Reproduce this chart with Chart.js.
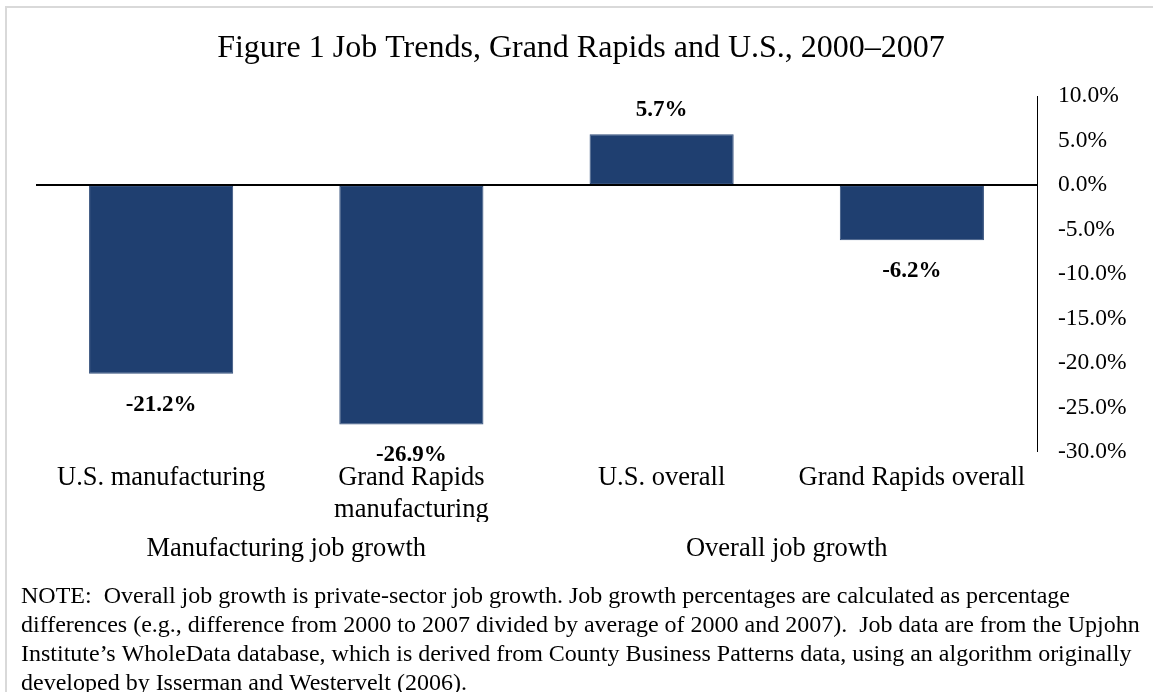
<!DOCTYPE html>
<html>
<head>
<meta charset="utf-8">
<script src="https://cdn.jsdelivr.net/npm/chart.js@4"></script>
<style>
  html, body { margin: 0; padding: 0; background: #fff; }
  #wrap { position: relative; width: 1153px; height: 692px; }
  canvas { display: block; }
</style>
</head>
<body>
<div id="wrap"><canvas id="c" width="1153" height="692"></canvas></div>
<script>
// ---- data ----
const categories = [["U.S. manufacturing"], ["Grand Rapids", "manufacturing"], ["U.S. overall"], ["Grand Rapids overall"]];
const jobGrowth = [-21.2, -26.9, 5.7, -6.2];
const groupLabels = ["Manufacturing job growth", "Overall job growth"];
const yMin = -30, yMax = 10, yStep = 5;
const titleText = "Figure 1 Job Trends, Grand Rapids and U.S., 2000\u20132007";
const noteLines = [
  "NOTE:  Overall job growth is private-sector job growth. Job growth percentages are calculated as percentage",
  "differences (e.g., difference from 2000 to 2007 divided by average of 2000 and 2007).  Job data are from the Upjohn",
  "Institute\u2019s WholeData database, which is derived from County Business Patterns data, using an algorithm originally",
  "developed by Isserman and Westervelt (2006)."
];

const SERIF = "'Liberation Serif', 'Times New Roman', serif";

const decorPlugin = {
  id: 'decor',
  beforeDraw(chart) {
    const ctx = chart.ctx;
    ctx.save();
    ctx.fillStyle = '#fff';
    ctx.fillRect(0, 0, chart.width, chart.height);
    ctx.strokeStyle = '#d9d9d9';
    ctx.lineWidth = 2;
    ctx.beginPath();
    ctx.moveTo(6, chart.height);
    ctx.lineTo(6, 7);
    ctx.lineTo(chart.width, 7);
    ctx.stroke();
    ctx.restore();
  },
  afterDraw(chart) {
    const ctx = chart.ctx;
    ctx.save();
    ctx.fillStyle = '#000';
    ctx.textBaseline = 'alphabetic';
    ctx.font = "32px " + SERIF;
    ctx.textAlign = 'center';
    ctx.fillText(titleText, 581, 57);
    ctx.font = "24px " + SERIF;
    ctx.textAlign = 'left';
    noteLines.forEach((l, i) => ctx.fillText(l, 21, 603 + i * 29));
    ctx.restore();
  }
};

const labelPlugin = {
  id: 'barLabels',
  afterDatasetsDraw(chart) {
    const ctx = chart.ctx;
    const meta = chart.getDatasetMeta(0);
    ctx.save();
    ctx.fillStyle = '#000';
    ctx.font = "bold 23px " + SERIF;
    ctx.textAlign = 'center';
    ctx.textBaseline = 'middle';
    meta.data.forEach((el, i) => {
      const v = chart.data.datasets[0].data[i];
      const y = v >= 0 ? el.y - 24 : el.y + 31;
      ctx.fillText(v.toFixed(1) + '%', el.x, y);
    });
    ctx.restore();
  }
};

new Chart(document.getElementById('c'), {
  type: 'bar',
  data: {
    labels: categories,
    datasets: [{
      data: jobGrowth,
      backgroundColor: '#1F3F70',
      borderColor: '#34507c',
      borderWidth: 1,
      borderSkipped: false,
      barPercentage: 0.576,
      categoryPercentage: 1
    }]
  },
  options: {
    responsive: false,
    devicePixelRatio: 1,
    animation: false,
    layout: { padding: { left: 36, right: 0, top: 96, bottom: 100 } },
    plugins: { legend: { display: false }, tooltip: { enabled: false }, title: { display: false } },
    scales: {
      x: {
        type: 'category',
        position: 'bottom',
        offset: true,
        grid: { display: false, drawTicks: false },
        border: { display: false },
        ticks: { color: '#000', font: { family: SERIF, size: 26.5 }, padding: 10, maxRotation: 0, autoSkip: false },
        afterFit(s) { s.height = 70; }
      },
      x2: {
        type: 'category',
        position: 'bottom',
        labels: groupLabels,
        offset: true,
        grid: { display: false, drawTicks: false },
        border: { display: false },
        ticks: { color: '#000', font: { family: SERIF, size: 26.5 }, padding: 11, maxRotation: 0, autoSkip: false },
        afterFit(s) { s.height = 70; }
      },
      y: {
        position: 'right',
        min: yMin,
        max: yMax,
        z: 1,
        border: { display: true, color: '#000', width: 1 },
        grid: {
          drawTicks: false,
          color: c => (c.tick && c.tick.value === 0) ? '#000' : 'rgba(0,0,0,0)',
          lineWidth: c => (c.tick && c.tick.value === 0) ? 2 : 0
        },
        ticks: {
          stepSize: yStep,
          color: '#000',
          padding: 21,
          font: { family: SERIF, size: 23.5 },
          callback: v => v.toFixed(1) + '%'
        },
        afterFit(s) { s.width = 116; }
      }
    }
  },
  plugins: [decorPlugin, labelPlugin]
});
</script>
</body>
</html>
